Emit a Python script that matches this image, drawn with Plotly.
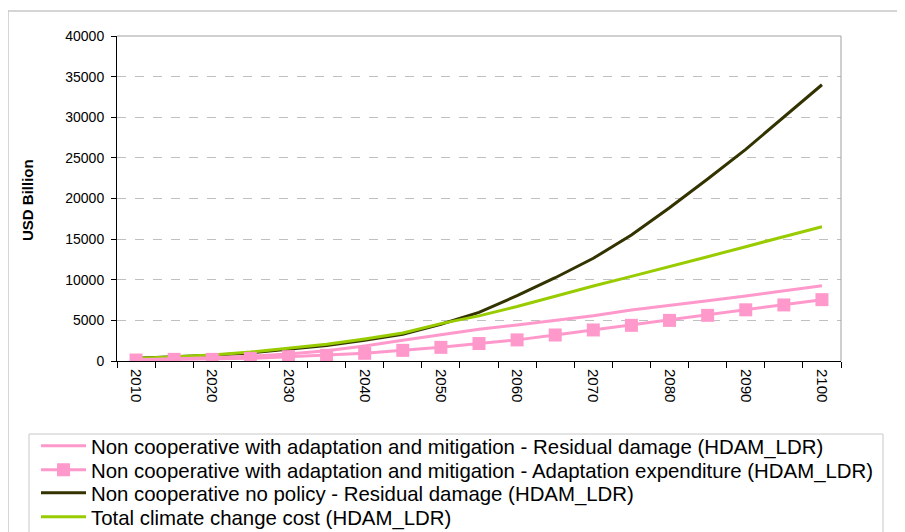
import plotly.graph_objects as go

# Climate change costs, USD Billion, 2010-2100 (5 year steps)
years = ["2010", "2015", "2020", "2025", "2030", "2035", "2040", "2045", "2050", "2055",
         "2060", "2065", "2070", "2075", "2080", "2085", "2090", "2095", "2100"]
year_labels = ["2010", "", "2020", "", "2030", "", "2040", "", "2050", "",
               "2060", "", "2070", "", "2080", "", "2090", "", "2100"]

residual_adapt = [150, 250, 400, 600, 870, 1250, 1850, 2550, 3250, 3900,
                  4430, 4960, 5580, 6280, 6890, 7420, 8000, 8650, 9270]
adaptation_exp = [120, 200, 200, 330, 530, 700, 950, 1310, 1680, 2150,
                  2600, 3200, 3820, 4390, 5000, 5620, 6300, 6900, 7550]
residual_nopolicy = [330, 500, 700, 1000, 1500, 1920, 2540, 3300, 4530, 5990,
                     8040, 10250, 12640, 15500, 18870, 22400, 26050, 30000, 34000]
total_cost = [300, 500, 750, 1100, 1550, 2050, 2700, 3450, 4600, 5550,
              6700, 8000, 9230, 10420, 11600, 12840, 14070, 15300, 16530]

pink = "#FF99CC"
dark = "#333300"
green = "#99CC00"

fig = go.Figure()
fig.add_trace(go.Scatter(x=years, y=residual_nopolicy, mode="lines", legend="legend3",
                         name="Non cooperative no policy - Residual damage (HDAM_LDR)",
                         line=dict(color=dark, width=3)))
fig.add_trace(go.Scatter(x=years, y=total_cost, mode="lines", legend="legend4",
                         name="Total climate change cost (HDAM_LDR)",
                         line=dict(color=green, width=3)))
fig.add_trace(go.Scatter(x=years, y=residual_adapt, mode="lines", legend="legend",
                         name="Non cooperative with adaptation and mitigation - Residual damage (HDAM_LDR)",
                         line=dict(color=pink, width=3)))
fig.add_trace(go.Scatter(x=years, y=adaptation_exp, mode="lines+markers", legend="legend2",
                         name="Non cooperative with adaptation and mitigation - Adaptation expenditure (HDAM_LDR)",
                         line=dict(color=pink, width=3),
                         marker=dict(symbol="square", size=13, color=pink)))

# page body has an 8px margin, so work in figure pixels = screen pixels - 8
OFF = 8
W, H = 905, 532
L, R, T, B = 117 - OFF, 841 - OFF, 36 - OFF, 361 - OFF
pw, ph = R - L, B - T

def px_x(v):
    return (v - OFF - L) / pw

def px_y(v):
    return (B - (v - OFF)) / ph

def leg(row_y):
    return dict(x=(36 - OFF) / W, y=1 - (row_y - OFF) / H, xref="container", yref="container",
                xanchor="left", yanchor="middle", borderwidth=0,
                bgcolor="rgba(0,0,0,0)", font=dict(size=20.4), itemwidth=45)

fig.update_layout(
    width=W, height=H,
    margin=dict(l=L, r=W - R, t=T, b=H - B, autoexpand=False),
    plot_bgcolor="white", paper_bgcolor="white",
    font=dict(family="Liberation Sans, Arial", size=14, color="black"),
    showlegend=True,
    legend=leg(446), legend2=leg(470), legend3=leg(493), legend4=leg(517),
    xaxis=dict(type="category", tickmode="array", tickvals=years, ticktext=year_labels,
               tickson="boundaries", ticks="outside", ticklen=6, tickcolor="black",
               showline=True, linecolor="black", linewidth=1, tickangle=90,
               tickfont=dict(size=15), ticklabelstandoff=4, showgrid=False,
               range=[-0.5, 18.5]),
    yaxis=dict(range=[0, 40000], dtick=5000, tickformat="d", ticks="outside", ticklen=5,
               tickcolor="black", showline=True, linecolor="black", linewidth=1,
               ticklabelstandoff=4, showgrid=True, gridcolor="#C0C0C0", griddash="dash",
               zeroline=False),
)

# plot border (top/right), legend frame and outer chart frame
fig.add_shape(type="line", xref="paper", yref="paper", x0=0, x1=1, y0=1, y1=1,
              line=dict(color="#A0A0A0", width=1))
fig.add_shape(type="line", xref="paper", yref="paper", x0=1, x1=1, y0=0, y1=1,
              line=dict(color="#A0A0A0", width=1))
fig.add_shape(type="rect", xref="paper", yref="paper",
              x0=px_x(29), x1=px_x(883), y0=px_y(545), y1=px_y(434),
              line=dict(color="#C8C8C8", width=1))
fig.add_shape(type="rect", xref="paper", yref="paper",
              x0=px_x(8), x1=px_x(903), y0=px_y(545), y1=px_y(11),
              line=dict(color="#C8C8C8", width=1.5))

fig.add_annotation(text="<b>USD Billion</b>", xref="paper", yref="paper",
                   x=px_x(27), y=px_y(200), xanchor="center", yanchor="middle",
                   textangle=-90, showarrow=False, font=dict(size=15))

fig.write_html("out.html")
